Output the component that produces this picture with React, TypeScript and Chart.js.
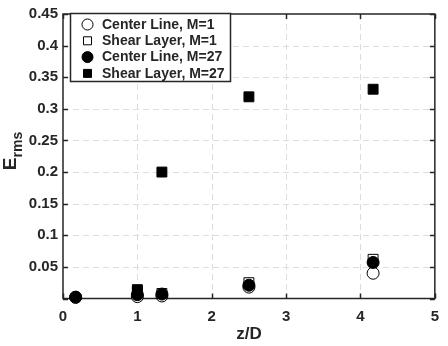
import React, { useEffect, useRef } from 'react';
import { Chart, registerables } from 'chart.js';

Chart.register(...registerables);

const xPositions = [0.17, 1, 1.33, 2.5, 4.17];
const centerLineM1 = [0.002, 0.003, 0.004, 0.018, 0.040];
const shearLayerM1 = [null, 0.011, 0.008, 0.025, 0.062];
const centerLineM27 = [0.002, 0.006, 0.007, 0.021, 0.057];
const shearLayerM27 = [null, 0.014, 0.2, 0.319, 0.331];
const seriesLabels = ['Center Line, M=1', 'Shear Layer, M=1', 'Center Line, M=27', 'Shear Layer, M=27'];
const xTickValues = [0, 1, 2, 3, 4, 5];
const yTickLabels = ['0', '0.05', '0.1', '0.15', '0.2', '0.25', '0.3', '0.35', '0.4', '0.45'];
const xTitle = 'z/D';
const yTitleMain = 'E';
const yTitleSub = 'rms';

const FONT = "'Liberation Sans', Arial, sans-serif";
const TEXT = '#262626';

type Marker = { style: 'circle' | 'rect'; filled: boolean };
const markers: Marker[] = [
  { style: 'circle', filled: false },
  { style: 'rect', filled: false },
  { style: 'circle', filled: true },
  { style: 'rect', filled: true },
];

const framePlugin = {
  id: 'frame',
  beforeDatasetsDraw(chart: any) {
    const { ctx, chartArea, scales } = chart;
    const { left, right, top, bottom } = chartArea;
    const xs = scales.x;
    const ys = scales.y;
    ctx.save();
    ctx.strokeStyle = '#dcdcdc';
    ctx.lineWidth = 1;
    ctx.setLineDash([6, 4]);
    xTickValues.forEach((v) => {
      if (v === 0 || v === 5) return;
      const px = Math.round(xs.getPixelForValue(v)) + 0.5;
      ctx.beginPath();
      ctx.moveTo(px, top);
      ctx.lineTo(px, bottom);
      ctx.stroke();
    });
    yTickLabels.forEach((l, i) => {
      if (i === 0 || i === yTickLabels.length - 1) return;
      const py = Math.round(ys.getPixelForValue(parseFloat(l))) + 0.5;
      ctx.beginPath();
      ctx.moveTo(left, py);
      ctx.lineTo(right, py);
      ctx.stroke();
    });
    ctx.setLineDash([]);
    ctx.strokeStyle = TEXT;
    ctx.lineWidth = 1.5;
    ctx.strokeRect(left, top, right - left, bottom - top);
    const tl = 5;
    xTickValues.forEach((v) => {
      const px = Math.round(xs.getPixelForValue(v)) + 0.5;
      ctx.beginPath();
      ctx.moveTo(px, bottom);
      ctx.lineTo(px, bottom - tl);
      ctx.moveTo(px, top);
      ctx.lineTo(px, top + tl);
      ctx.stroke();
    });
    yTickLabels.forEach((l) => {
      const py = Math.round(ys.getPixelForValue(parseFloat(l))) + 0.5;
      ctx.beginPath();
      ctx.moveTo(left, py);
      ctx.lineTo(left + tl, py);
      ctx.moveTo(right, py);
      ctx.lineTo(right - tl, py);
      ctx.stroke();
    });
    ctx.restore();
  },
  afterDraw(chart: any) {
    const { ctx, chartArea } = chart;
    const { left, right } = chartArea;
    ctx.save();
    ctx.fillStyle = TEXT;
    ctx.font = `bold 17px ${FONT}`;
    ctx.textAlign = 'center';
    ctx.textBaseline = 'middle';
    ctx.fillText(xTitle, (left + right) / 2, 334);
    ctx.font = `bold 19px ${FONT}`;
    const wE = ctx.measureText(yTitleMain).width;
    ctx.font = `bold 14px ${FONT}`;
    const wS = ctx.measureText(yTitleSub).width;
    const total = wE + wS;
    ctx.translate(16, 151 + total / 2);
    ctx.rotate(-Math.PI / 2);
    ctx.textAlign = 'left';
    ctx.textBaseline = 'alphabetic';
    ctx.font = `bold 19px ${FONT}`;
    ctx.fillText(yTitleMain, 0, 0);
    ctx.font = `bold 14px ${FONT}`;
    ctx.fillText(yTitleSub, wE, 6);
    ctx.restore();

    ctx.save();
    const bx = 70.5, by = 13.5, bw = 160, bh = 68;
    ctx.fillStyle = '#ffffff';
    ctx.fillRect(bx, by, bw, bh);
    ctx.strokeStyle = TEXT;
    ctx.lineWidth = 1.5;
    ctx.strokeRect(bx, by, bw, bh);
    ctx.font = `bold 14px ${FONT}`;
    ctx.textAlign = 'left';
    ctx.textBaseline = 'middle';
    const datasets = chart.data.datasets;
    datasets.forEach((ds: any, i: number) => {
      const cy = 24.5 + i * 16.3;
      const cx = 87.5;
      const m = markers[i];
      ctx.lineWidth = 1;
      ctx.strokeStyle = '#000';
      ctx.fillStyle = m.filled ? '#000' : '#fff';
      ctx.beginPath();
      if (m.style === 'circle') {
        ctx.arc(cx, cy, 5.5, 0, Math.PI * 2);
      } else {
        ctx.rect(cx - 4, cy - 4, 8, 8);
      }
      ctx.fill();
      ctx.stroke();
      ctx.fillStyle = TEXT;
      ctx.fillText(ds.label, 102, cy + 0.5);
    });
    ctx.restore();
  },
};

export default function App() {
  const canvasRef = useRef<HTMLCanvasElement | null>(null);

  useEffect(() => {
    document.body.style.margin = '0';
    const canvas = canvasRef.current;
    if (!canvas) return;
    const seriesValues = [centerLineM1, shearLayerM1, centerLineM27, shearLayerM27];
    const datasets = seriesValues.map((vals, i) => ({
      label: seriesLabels[i],
      data: xPositions.map((x, j) => ({ x, y: vals[j] })),
      showLine: false,
      pointStyle: markers[i].style,
      pointRadius: markers[i].style === 'circle' ? 6 : 7,
      pointBackgroundColor: markers[i].filled ? '#000000' : '#ffffff',
      pointBorderColor: '#000000',
      pointBorderWidth: 1,
      clip: false as any,
      order: 3 - i,
    }));
    const chart = new Chart(canvas, {
      type: 'scatter',
      data: { datasets },
      options: {
        responsive: false,
        animation: false,
        devicePixelRatio: 1,
        layout: { padding: { top: 9, right: 10, left: 0, bottom: 0 } },
        plugins: { legend: { display: false }, tooltip: { enabled: false } },
        scales: {
          x: {
            type: 'linear',
            min: 0,
            max: 5,
            afterBuildTicks: (scale: any) => {
              scale.ticks = xTickValues.map((v) => ({ value: v }));
            },
            afterFit: (scale: any) => {
              scale.height = 47.5;
            },
            grid: { display: false, drawTicks: false },
            border: { display: false },
            ticks: {
              padding: 9,
              color: TEXT,
              font: { family: FONT, weight: 'bold', size: 15 },
              callback: (v: any) => String(v),
            },
          },
          y: {
            type: 'linear',
            min: 0,
            max: 0.45,
            afterBuildTicks: (scale: any) => {
              scale.ticks = yTickLabels.map((l) => ({ value: parseFloat(l) }));
            },
            afterFit: (scale: any) => {
              scale.width = 63;
            },
            grid: { display: false, drawTicks: false },
            border: { display: false },
            ticks: {
              padding: 5,
              color: TEXT,
              font: { family: FONT, weight: 'bold', size: 15 },
              callback: (_v: any, i: number) => (i === 0 ? '' : yTickLabels[i]),
            },
          },
        },
      },
      plugins: [framePlugin],
    });
    return () => chart.destroy();
  }, []);

  return <canvas ref={canvasRef} width={448} height={346} style={{ display: 'block' }} />;
}
